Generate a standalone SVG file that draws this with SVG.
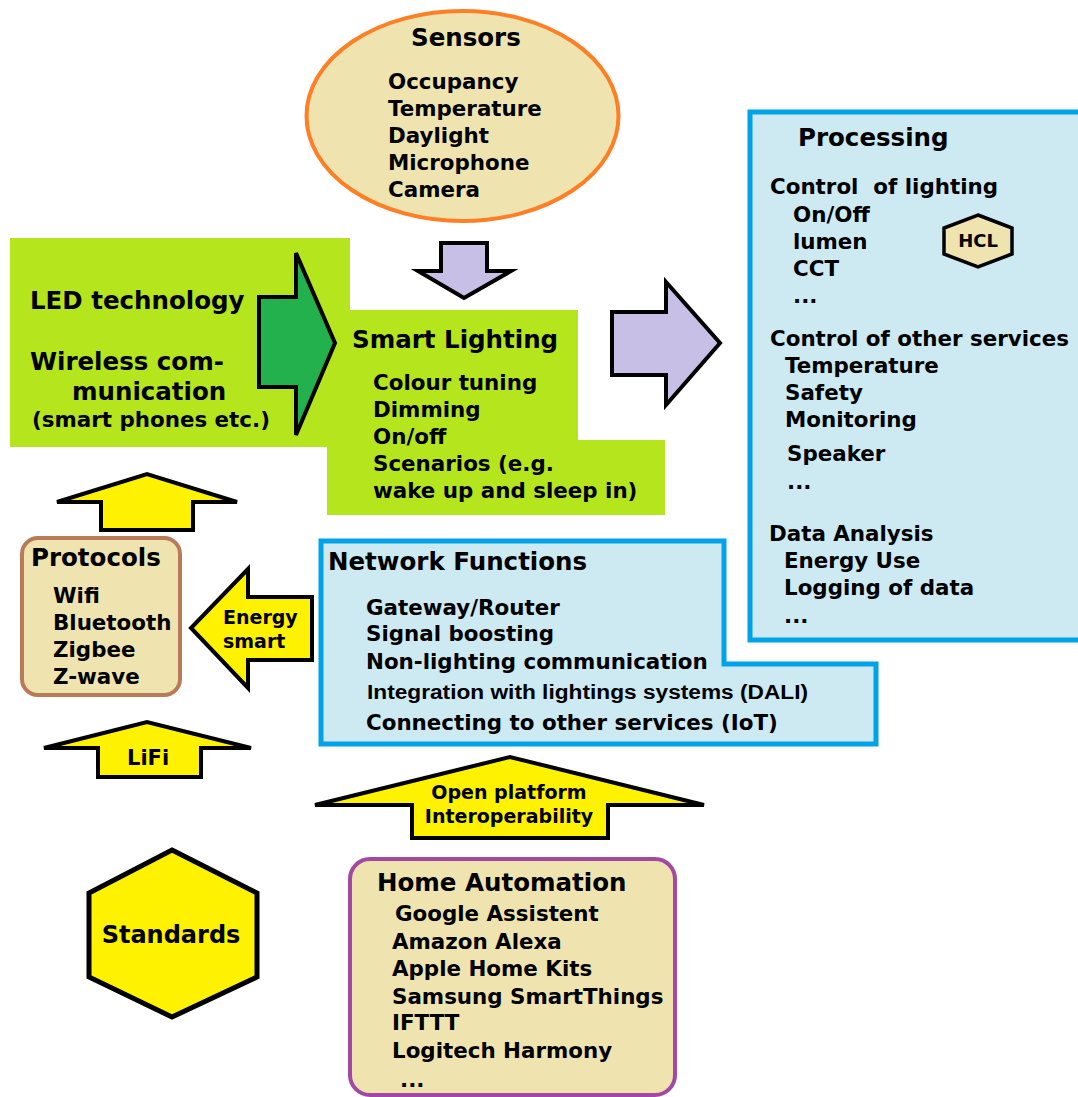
<svg xmlns="http://www.w3.org/2000/svg" width="1078" height="1097" viewBox="0 0 1078 1097">
<style>
text { font-family: "DejaVu Sans", Verdana, sans-serif; font-weight: bold; fill: #000; }
.h { font-size: 24.5px; }
.s { font-size: 21.4px; }
.m { font-size: 19px; }
.arw { stroke: #000; stroke-width: 4; stroke-linejoin: miter; }
.yel { fill: #fff200; }
.lav { fill: #c8bfe7; }
.grn { fill: #b5e61d; }
.beige { fill: #efe4b0; }
.blue { fill: #cdeaf2; stroke: #00a2e8; stroke-width: 5; }
</style>
<rect width="1078" height="1097" fill="#fff"/>

<g id="sensors">
<ellipse cx="462.5" cy="116" rx="156" ry="105" class="beige" stroke="#ff7f27" stroke-width="4"/>
<text class="h" x="411" y="46">Sensors</text>
<text class="s" x="388" y="89">Occupancy</text>
<text class="s" x="388" y="116">Temperature</text>
<text class="s" x="388" y="143">Daylight</text>
<text class="s" x="388" y="170">Microphone</text>
<text class="s" x="388" y="197">Camera</text>
</g>

<g id="led-wireless">
<rect x="10" y="238" width="340" height="209" class="grn"/>
<text class="h" x="30" y="309">LED technology</text>
<text class="h" x="30" y="370">Wireless com-</text>
<text class="h" x="72" y="400">munication</text>
<text class="s" x="32" y="427">(smart phones etc.)</text>
</g>

<g id="smart-lighting">
<polygon points="327,310 578,310 578,440 665,440 665,515 327,515" class="grn"/>
<text class="h" x="352" y="348">Smart Lighting</text>
<text class="s" x="373" y="390">Colour tuning</text>
<text class="s" x="373" y="417">Dimming</text>
<text class="s" x="373" y="444">On/off</text>
<text class="s" x="373" y="471">Scenarios (e.g.</text>
<text class="s" x="373" y="498">wake up and sleep in)</text>
</g>

<g id="processing">
<rect x="750" y="112" width="340" height="528" class="blue"/>
<text class="h" x="798" y="146">Processing</text>
<text class="s" x="770" y="194" xml:space="preserve">Control  of lighting</text>
<text class="s" x="793" y="222">On/Off</text>
<text class="s" x="793" y="249">lumen</text>
<text class="s" x="793" y="276">CCT</text>
<text class="s" x="793" y="303">...</text>
<text class="s" x="770" y="346">Control of other services</text>
<text class="s" x="785" y="373">Temperature</text>
<text class="s" x="785" y="400">Safety</text>
<text class="s" x="785" y="427">Monitoring</text>
<text class="s" x="787" y="461">Speaker</text>
<text class="s" x="787" y="489">...</text>
<text class="s" x="769" y="541">Data Analysis</text>
<text class="s" x="784" y="568">Energy Use</text>
<text class="s" x="784" y="595">Logging of data</text>
<text class="s" x="784" y="623">...</text>
</g>

<g id="hcl">
<polygon points="978,215 1012,228 1012,254 978,267 944,254 944,228" class="beige" stroke="#000" stroke-width="3.5"/>
<text x="978" y="247" font-size="18" text-anchor="middle">HCL</text>
</g>

<g id="protocols">
<rect x="22" y="538" width="158" height="157" rx="16" class="beige" stroke="#b97a57" stroke-width="4"/>
<text class="h" x="31" y="566">Protocols</text>
<text class="s" x="53" y="603">Wifi</text>
<text class="s" x="53" y="630">Bluetooth</text>
<text class="s" x="53" y="657">Zigbee</text>
<text class="s" x="53" y="684">Z-wave</text>
</g>

<g id="network-functions">
<polygon points="321,541 724,541 724,664 876,664 876,744 321,744" class="blue"/>
<text class="h" x="328" y="570">Network Functions</text>
<text class="s" x="366" y="615">Gateway/Router</text>
<text class="s" x="366" y="641">Signal boosting</text>
<text class="s" x="366" y="669">Non-lighting communication</text>
<text x="367" y="699" font-size="20" style="font-family:'Liberation Sans',Arial,sans-serif" textLength="441" lengthAdjust="spacingAndGlyphs">Integration with lightings systems (DALI)</text>
<text class="s" x="366" y="730">Connecting to other services (IoT)</text>
</g>

<g id="standards">
<polygon points="172,850 257,893 257,977 172,1017 89,977 89,893" class="yel" stroke="#000" stroke-width="5"/>
<text x="171" y="943" font-size="24" text-anchor="middle">Standards</text>
</g>

<g id="home-automation">
<rect x="350" y="859" width="325" height="236" rx="20" class="beige" stroke="#a349a4" stroke-width="4"/>
<text class="h" x="377" y="891">Home Automation</text>
<text class="s" x="395" y="921">Google Assistent</text>
<text class="s" x="392" y="949">Amazon Alexa</text>
<text class="s" x="392" y="976">Apple Home Kits</text>
<text class="s" x="392" y="1004">Samsung SmartThings</text>
<text class="s" x="392" y="1030">IFTTT</text>
<text class="s" x="392" y="1058">Logitech Harmony</text>
<text class="s" x="400" y="1087">...</text>
</g>

<g id="connectors">
<polygon class="arw" fill="#22b14c" points="259,297 296,297 296,253 335,343 296,435 296,387 259,387"/>
<polygon class="arw lav" points="441,243 487,243 487,271 511,271 464,298 418,271 441,271"/>
<polygon class="arw lav" points="612,312 666,312 666,282 720,343 666,405 666,375 612,375"/>
<polygon class="arw yel" points="101,530 193,530 193,502 237,502 147,474 57,502 101,502"/>
<polygon class="arw yel" points="312,597 248,597 248,569 191,628 248,688 248,660 312,660"/>
<text class="m" x="223" y="624">Energy</text>
<text class="m" x="223" y="648">smart</text>
<polygon class="arw yel" points="98,777 201,777 201,748 251,748 147,722 44,748 98,748"/>
<text x="127" y="765" font-size="21">LiFi</text>
<polygon class="arw yel" points="412,838 608,838 608,805 704,805 510,757 315,805 412,805"/>
<text class="m" x="509" y="799" text-anchor="middle">Open platform</text>
<text class="m" x="509" y="823" text-anchor="middle">Interoperability</text>
</g>
</svg>
